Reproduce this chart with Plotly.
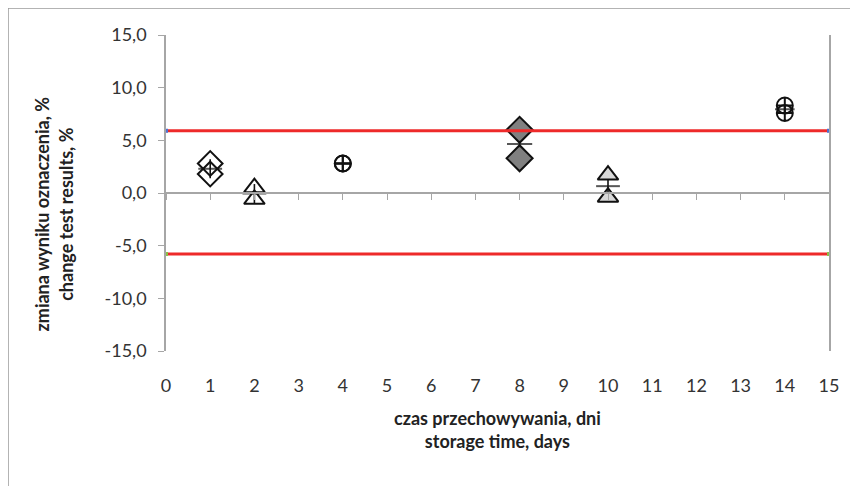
import plotly.graph_objects as go

# ---- data ----
days = [1, 2, 4, 8, 10, 14]
rep1 = [2.8, 0.5, 2.8, 6.0, 1.7, 8.3]
rep2 = [1.8, -0.6, 2.8, 3.3, -0.4, 7.6]
means = [2.3, -0.05, 2.8, 4.65, 0.65, 7.95]
errs = [0.9, 0.9, 0.0, 0.3, 0.6, 0.0]
symbols = ["diamond-open", "triangle-up", "circle-cross-open", "diamond", "triangle-up", "circle-cross-open"]
fills = ["white", "white", "white", "#808080", "#d9d9d9", "white"]
sizes = [19, 18, 16, 20, 18, 16]
mean_sizes = [17, 17, 12, 18, 17, 14]

limit_x = [0, 15]
upper_limit = [5.9, 5.9]
lower_limit = [-5.8, -5.8]

x_ticks = list(range(0, 16))
y_ticks = [15, 10, 5, 0, -5, -10, -15]
y_labels = ["15,0", "10,0", "5,0", "0,0", "-5,0", "-10,0", "-15,0"]

FONT = "Lato"
AX = "#a6a6a6"

fig = go.Figure()

# limit lines
fig.add_trace(go.Scatter(x=limit_x, y=upper_limit, mode="lines+markers",
                         line=dict(color="#ee2a2a", width=3),
                         marker=dict(color="#4f6fd0", size=4, symbol="square"),
                         xaxis="x2", showlegend=False, hoverinfo="skip"))
fig.add_trace(go.Scatter(x=limit_x, y=lower_limit, mode="lines+markers",
                         line=dict(color="#ee2a2a", width=3),
                         marker=dict(color="#8bbf4a", size=4, symbol="square"),
                         xaxis="x2", showlegend=False, hoverinfo="skip"))

# replicate points
for i, d in enumerate(days):
    sym = symbols[i]
    if sym in ("diamond", "triangle-up"):
        mk = dict(symbol=sym, size=sizes[i], color=fills[i], line=dict(color="#111111", width=2))
    else:
        mk = dict(symbol=sym, size=sizes[i], color="#111111", line=dict(color="#111111", width=2))
    fig.add_trace(go.Scatter(x=[d, d], y=[rep1[i], rep2[i]], mode="markers",
                             marker=mk, showlegend=False))

# means with error bars
fig.add_trace(go.Scatter(x=days, y=means, mode="markers",
                         marker=dict(symbol="line-ew", size=mean_sizes, line=dict(color="#111111", width=2)),
                         error_y=dict(type="data", array=errs, color="#111111", thickness=1.6, width=0),
                         showlegend=False))

fig.update_layout(
    width=850, height=478,
    margin=dict(l=158, r=29, t=27, b=135, autoexpand=False),
    paper_bgcolor="white", plot_bgcolor="white",
    font=dict(family=FONT, size=18, color="#333333"),
    xaxis=dict(range=[0, 15], tickvals=x_ticks, showline=False, showgrid=False,
               zeroline=False, ticks="", ticklabelstandoff=22, automargin=False,
               tickfont=dict(size=18, color="#333333")),
    xaxis2=dict(range=[0, 15], overlaying="x", anchor="free", position=0.5,
                tickvals=x_ticks, showticklabels=False, showline=True,
                linecolor=AX, linewidth=1.5, ticks="outside", ticklen=6,
                tickcolor=AX, showgrid=False, zeroline=False, automargin=False),
    yaxis=dict(range=[-15, 15], tickvals=y_ticks, ticktext=y_labels,
               showline=True, linecolor=AX, linewidth=1.5, mirror=True,
               ticks="outside", ticklen=6, tickcolor=AX, showgrid=False,
               zeroline=False, ticklabelstandoff=8, automargin=False,
               tickfont=dict(size=18, color="#333333")),
)

# axis titles
fig.add_annotation(text="czas przechowywania, dni<br>storage time, days",
                   xref="paper", yref="paper", x=0.5, y=-0.248, yanchor="middle",
                   showarrow=False, font=dict(family=FONT, size=18, color="#222222", weight="bold"),
                   align="center")
fig.add_annotation(text="zmiana wyniku oznaczenia, %<br>change test results, %",
                   xref="paper", yref="paper", x=-0.17, y=0.433, xanchor="center",
                   yanchor="middle", textangle=-90,
                   showarrow=False, font=dict(family=FONT, size=18, color="#222222", weight="bold"),
                   align="center")

# outer border (left and top edges of the chart frame)
fig.add_shape(type="line", xref="paper", yref="paper",
              x0=-0.2383, y0=1.0854, x1=1.1, y1=1.0854,
              line=dict(color="#9a9a9a", width=1.5))
fig.add_shape(type="line", xref="paper", yref="paper",
              x0=-0.2383, y0=-0.5, x1=-0.2383, y1=1.0854,
              line=dict(color="#9a9a9a", width=1.5))

fig.write_html("out.html")
